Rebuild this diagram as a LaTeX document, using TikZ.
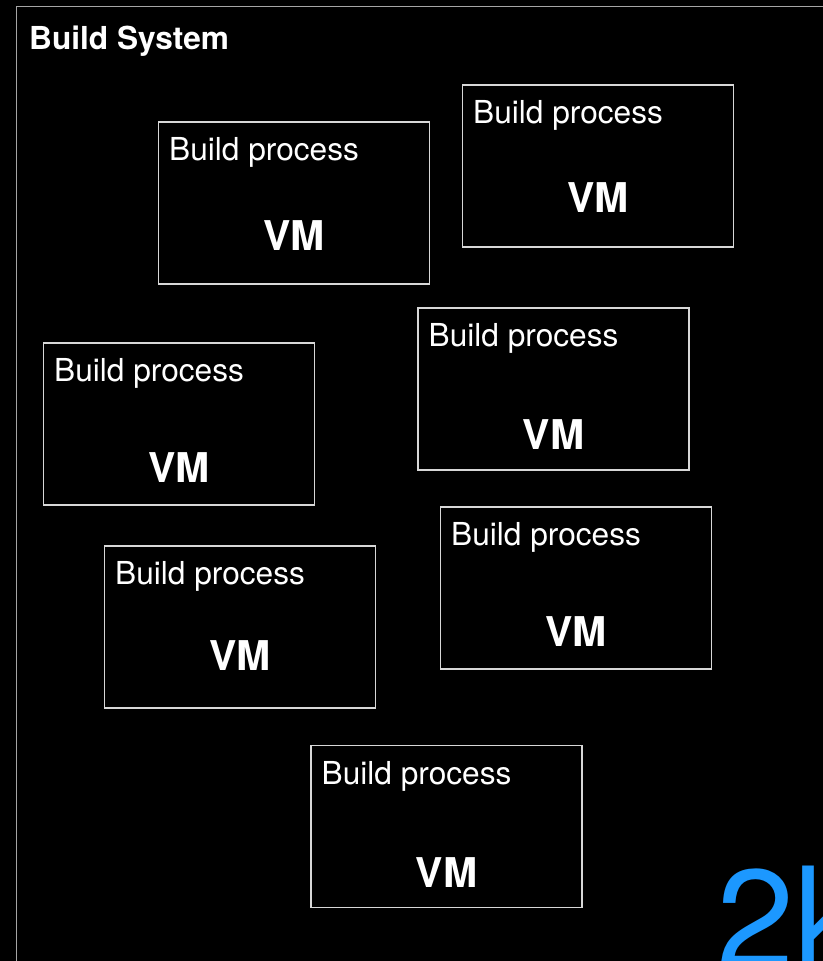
\documentclass[tikz,border=0pt]{standalone}
\usepackage{fontspec}
\setmainfont{TeX Gyre Heros}
\usetikzlibrary{positioning, calc}
\definecolor{frameColor}{RGB}{165,165,165}
\definecolor{boxColor}{RGB}{215,215,215}
\definecolor{countColor}{RGB}{28,152,255}

\begin{document}
\begin{tikzpicture}[
    x=0.03cm, y=-0.03cm,
    proc/.style={draw=boxColor, line width=0.9pt, minimum width=8.13cm, minimum height=4.86cm, inner sep=0pt},  % one build VM
    proc_text/.style={text=white, font=\fontsize{27}{32}\selectfont, inner sep=0pt, anchor=west},
    vm_text/.style={text=white, font=\fontsize{35}{42}\selectfont\bfseries, inner sep=0pt},
    title_text/.style={text=white, font=\fontsize{27}{32}\selectfont\bfseries, inner sep=0pt},
    every node/.style={text=white}
]

% Black slide, clipped to its edges
\clip (0,0) rectangle (823,961);
\fill[black] (0,0) rectangle (823,961);

% Outer frame (runs off the slide at right and bottom)
\node[draw=frameColor, line width=0.9pt, minimum width=27cm, minimum height=30cm, anchor=north west, inner sep=0pt] (system) at (16,6) {};
\node[title_text, anchor=west] (title) at ($(system.north west)+(13,35)$) {Build System};

% Build processes, scattered
\foreach \i/\cx/\cy/\vy in {1/294/203/236, 2/598/166/198, 3/179/424/468, 4/553.5/389/435, 5/576/588/632, 6/240/627/656, 7/446.5/826.5/873} {
    \node[proc] (proc\i) at (\cx,\cy) {};
    \node[proc_text] (lbl\i) at ($(proc\i.north west)+(11,31)$) {Build process};
    \node[vm_text] (vm\i) at (\cx,\vy) {VM};
}

% Count, cut off at the corner
\node[text=countColor, font=\fontsize{120}{140}\selectfont, inner sep=0pt, anchor=north west] (count) at (716,866) {2k};

\end{tikzpicture}
\end{document}
